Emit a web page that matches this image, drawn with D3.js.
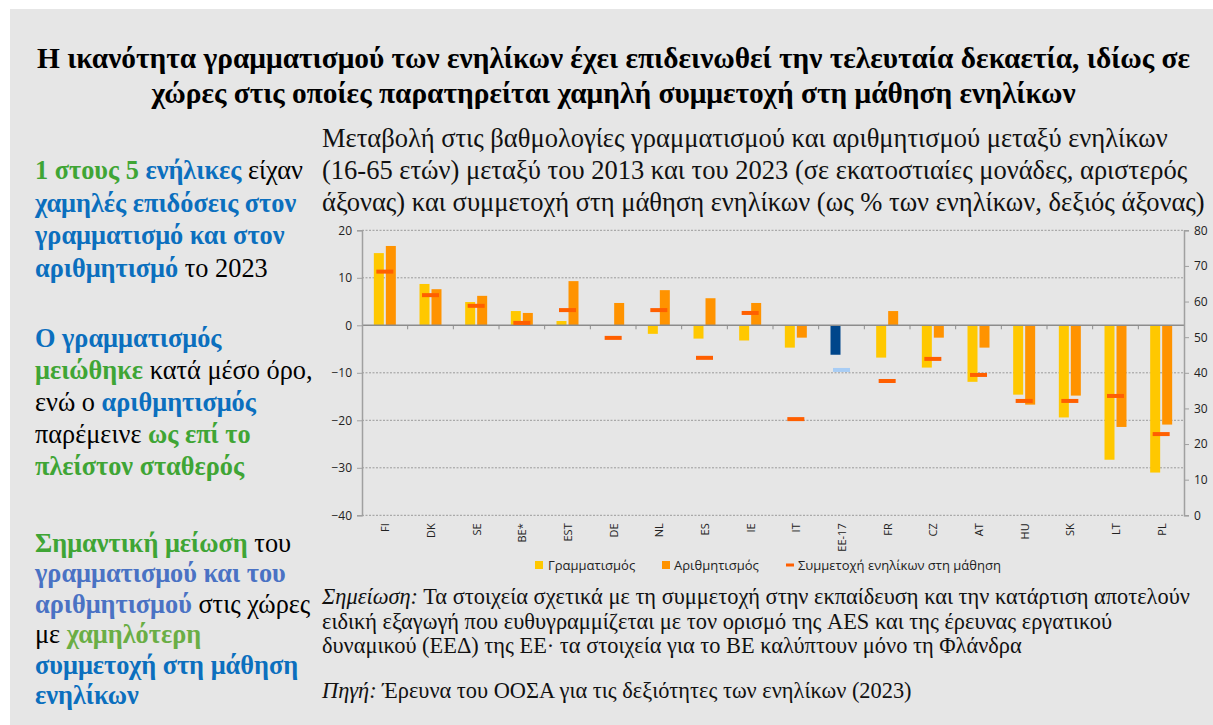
<!DOCTYPE html>
<html><head><meta charset="utf-8">
<script src="https://cdn.jsdelivr.net/npm/d3@7"></script>
<style>body{margin:0;background:#fff}svg{display:block}</style>
</head><body>
<script>
const categories = ["FI","DK","SE","BE*","EST","DE","NL","ES","IE","IT","EE-17","FR","CZ","AT","HU","SK","LT","PL"];
const literacy = [15.2, 8.7, 4.9, 3.0, 0.9, 0, -1.8, -2.8, -3.2, -4.7, -6.2, -6.8, -8.9, -11.9, -14.6, -19.4, -28.3, -31.0];
const numeracy = [16.7, 7.6, 6.2, 2.6, 9.3, 4.7, 7.4, 5.7, 4.7, -2.6, 0, 3.0, -2.6, -4.7, -16.7, -14.8, -21.4, -20.9];
const participation = [68.4, 61.8, 58.8, 54.0, 57.6, 49.8, 57.6, 44.2, 56.8, 27.0, 40.8, 37.7, 43.9, 39.4, 32.1, 32.1, 33.5, 22.8];
const leftTicks = [-40,-30,-20,-10,0,10,20];
const rightTicks = [0,10,20,30,40,50,60,70,80];
const legendLabels = ["Γραμματισμός","Αριθμητισμός","Συμμετοχή ενηλίκων στη μάθηση"];

const W = 1213, H = 725;
const svg = d3.select("body").append("svg").attr("width", W).attr("height", H);
svg.append("rect").attr("x",10).attr("y",9).attr("width",W-10).attr("height",H-9).attr("fill","#e6e6e6");

const serif = "'Liberation Serif','Times New Roman',serif";
const sans = "'Open Sans','Noto Sans',sans-serif";

function fit(sel, target){
  const w = sel.node().getComputedTextLength();
  const fs = parseFloat(sel.attr("font-size"));
  sel.attr("font-size", (fs*target/w).toFixed(2));
}

// Title
const title = ["Η ικανότητα γραμματισμού των ενηλίκων έχει επιδεινωθεί την τελευταία δεκαετία, ιδίως σε",
               "χώρες στις οποίες παρατηρείται χαμηλή συμμετοχή στη μάθηση ενηλίκων"];
const t0 = svg.append("text").attr("x",613.5).attr("y",68).attr("text-anchor","middle")
  .attr("font-family",serif).attr("font-weight","bold").attr("font-size",23).attr("fill","#000").text(title[0]);
fit(t0,1153);
svg.append("text").attr("x",613.5).attr("y",103).attr("text-anchor","middle")
  .attr("font-family",serif).attr("font-weight","bold").attr("font-size",t0.attr("font-size")).attr("fill","#000").text(title[1]);

// Chart subtitle
const sub = ["Μεταβολή στις βαθμολογίες γραμματισμού και αριθμητισμού μεταξύ ενηλίκων",
             "(16-65 ετών) μεταξύ του 2013 και του 2023 (σε εκατοστιαίες μονάδες, αριστερός",
             "άξονας) και συμμετοχή στη μάθηση ενηλίκων (ως % των ενηλίκων, δεξιός άξονας)"];
const subSel = sub.map((t,i)=> svg.append("text").attr("x",322).attr("y",147+i*32)
  .attr("font-family",serif).attr("font-size",21).attr("fill","#111").text(t));
const subFS = Math.min(21*856/subSel[0].node().getComputedTextLength(),
                       21*883/subSel[2].node().getComputedTextLength()).toFixed(2);
subSel.forEach(s=>s.attr("font-size",subFS));

// Left commentary
const G="#3fa535", B="#0b6fbe", P="#4a72c4", LG="#6aae45", K="#000";
const blocks = [
 {y:179, dy:32.5, lines:[
   [[G,1,"1 στους 5 "],[B,1,"ενήλικες"],[K,0," είχαν"]],
   [[B,1,"χαμηλές επιδόσεις στον"]],
   [[B,1,"γραμματισμό και στον"]],
   [[B,1,"αριθμητισμό"],[K,0," το 2023"]]]},
 {y:347, dy:32, lines:[
   [[B,1,"Ο γραμματισμός"]],
   [[G,1,"μειώθηκε"],[K,0," κατά μέσο όρο,"]],
   [[K,0,"ενώ ο "],[B,1,"αριθμητισμός"]],
   [[K,0,"παρέμεινε "],[G,1,"ως επί το"]],
   [[G,1,"πλείστον σταθερός"]]]},
 {y:552, dy:30.4, lines:[
   [[G,1,"Σημαντική μείωση"],[K,0," του"]],
   [[P,1,"γραμματισμού και του"]],
   [[P,1,"αριθμητισμού"],[K,0," στις χώρες"]],
   [[K,0,"με "],[LG,1,"χαμηλότερη"]],
   [[B,1,"συμμετοχή στη μάθηση"]],
   [[B,1,"ενηλίκων"]]]}
];
const probe = svg.append("text").attr("font-family",serif).attr("font-size",21);
probe.append("tspan").attr("font-weight","bold").text("1 στους 5 ενήλικες");
probe.append("tspan").text(" είχαν");
const leftFS = (21*268/probe.node().getComputedTextLength()).toFixed(2);
probe.remove();
blocks.forEach(b=> b.lines.forEach((ln,i)=>{
  const t = svg.append("text").attr("x",35).attr("y",b.y+i*b.dy).attr("font-family",serif).attr("font-size",leftFS);
  ln.forEach(s=> t.append("tspan").attr("fill",s[0]).attr("font-weight",s[1]?"bold":"normal").text(s[2]));
}));

// Chart
const x0 = 362, x1 = 1184, yTop = 230.3, yBot = 515.3;
const x = d3.scaleBand().domain(categories).range([x0,x1]).padding(0);
const yL = d3.scaleLinear().domain([-40,20]).range([yBot,yTop]);
const yR = d3.scaleLinear().domain([0,80]).range([yBot,yTop]);
const g = svg.append("g");

g.selectAll(".grid").data(leftTicks.filter(v=>v!==0)).join("line")
  .attr("x1",x0).attr("x2",x1).attr("y1",d=>yL(d)).attr("y2",d=>yL(d))
  .attr("stroke","#9a9a9a").attr("stroke-width",1).attr("stroke-dasharray","2,1.5");

const colY = "#ffc800", colO = "#ff9300", colM = "#ff5f00";
const bw = 10;
const data = categories.map((c,i)=>({c,lit:literacy[i],num:numeracy[i],par:participation[i],eu:c==="EE-17"}));

g.selectAll(".lit").data(data).join("rect")
  .attr("x",d=>x(d.c)+x.bandwidth()/2-bw-1).attr("width",bw)
  .attr("y",d=>Math.min(yL(d.lit),yL(0))).attr("height",d=>Math.abs(yL(d.lit)-yL(0)))
  .attr("fill",d=>d.eu?"#00468b":colY);
g.selectAll(".num").data(data).join("rect")
  .attr("x",d=>x(d.c)+x.bandwidth()/2+1).attr("width",bw)
  .attr("y",d=>Math.min(yL(d.num),yL(0))).attr("height",d=>Math.abs(yL(d.num)-yL(0)))
  .attr("fill",d=>d.eu?"#8a7060":colO);

g.append("line").attr("x1",x0).attr("x2",x1).attr("y1",yL(0)).attr("y2",yL(0)).attr("stroke","#8c8c8c").attr("stroke-width",1.5);
g.selectAll(".ct").data(categories.slice(1)).join("line")
  .attr("x1",d=>x(d)).attr("x2",d=>x(d)).attr("y1",yL(0)).attr("y2",yL(0)+4)
  .attr("stroke","#8c8c8c").attr("stroke-width",1);

g.selectAll(".mk").data(data).join("rect")
  .attr("x",d=>x(d.c)+x.bandwidth()/2-8.5).attr("width",17)
  .attr("y",d=>yR(d.par)-2).attr("height",4)
  .attr("fill",d=>d.eu?"#a8cdf5":colM);

const axL = g.append("g").attr("transform",`translate(${x0},0)`).call(d3.axisLeft(yL).tickValues(leftTicks).tickSize(5).tickPadding(5));
const axR = g.append("g").attr("transform",`translate(${x1},0)`).call(d3.axisRight(yR).tickValues(rightTicks).tickSize(5).tickPadding(5));
[axL,axR].forEach(a=>{
  a.select(".domain").attr("stroke","#a0a0a0").attr("stroke-width",1.5);
  a.selectAll(".tick line").attr("stroke","#a0a0a0");
  a.selectAll("text").attr("font-family",sans).attr("font-size",12).attr("fill","#222");
});

g.selectAll(".cl").data(categories).join("text")
  .attr("transform",d=>`translate(${x(d)+x.bandwidth()/2+4.5},${yBot+8}) rotate(-90)`)
  .attr("text-anchor","end").attr("font-family",sans).attr("font-size",11).attr("fill","#222").text(d=>d);

const lg = svg.append("g").attr("font-family",sans).attr("font-size",13).attr("fill","#222");
lg.append("rect").attr("x",535).attr("y",561).attr("width",8).attr("height",8).attr("fill",colY);
lg.append("text").attr("x",548).attr("y",570).text(legendLabels[0]);
lg.append("rect").attr("x",662).attr("y",561).attr("width",8).attr("height",8).attr("fill",colO);
lg.append("text").attr("x",674).attr("y",570).text(legendLabels[1]);
lg.append("rect").attr("x",786).attr("y",563.5).attr("width",8).attr("height",3).attr("fill",colM);
lg.append("text").attr("x",798).attr("y",570).text(legendLabels[2]);

const notes = [
  [["Σημείωση:",1],[" Τα στοιχεία σχετικά με τη συμμετοχή στην εκπαίδευση και την κατάρτιση αποτελούν",0]],
  [["ειδική εξαγωγή που ευθυγραμμίζεται με τον ορισμό της AES και της έρευνας εργατικού",0]],
  [["δυναμικού (ΕΕΔ) της ΕΕ· τα στοιχεία για το BE καλύπτουν μόνο τη Φλάνδρα",0]],
];
let notesFS = 18;
notes.forEach((ln,i)=>{
  const t = svg.append("text").attr("x",322).attr("y",604+i*24.5).attr("font-family",serif).attr("font-size",notesFS).attr("fill","#111");
  ln.forEach(s=> t.append("tspan").attr("font-style",s[1]?"italic":"normal").text(s[0]));
  if(i===0){ fit(t,868); notesFS = t.attr("font-size"); }
});
const src = svg.append("text").attr("x",322).attr("y",698).attr("font-family",serif).attr("font-size",notesFS).attr("fill","#111");
src.append("tspan").attr("font-style","italic").text("Πηγή:");
src.append("tspan").text(" Έρευνα του ΟΟΣΑ για τις δεξιότητες των ενηλίκων (2023)");
</script>
</body></html>
